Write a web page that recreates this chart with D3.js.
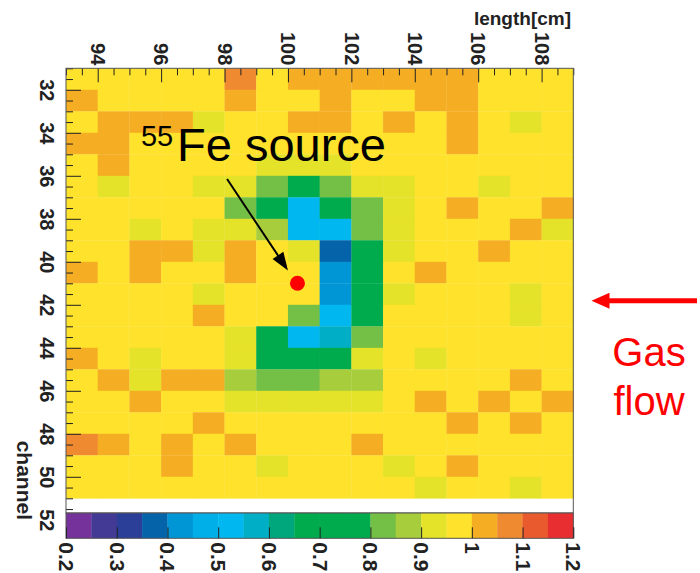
<!DOCTYPE html>
<html>
<head>
<meta charset="utf-8">
<script src="https://cdn.jsdelivr.net/npm/d3@7"></script>
<style>
body { margin: 0; background: #fff; }
svg { display: block; font-family: "Liberation Sans", Arial, Helvetica, sans-serif; }
</style>
</head>
<body>
<script>
// bins: one cell per cm along x, one per channel along y
const lengthBins = [93, 94, 95, 96, 97, 98, 99, 100, 101, 102, 103, 104, 105, 106, 107, 108];
const channelBins = [31, 32, 33, 34, 35, 36, 37, 38, 39, 40, 41, 42, 43, 44, 45, 46, 47, 48, 49, 50];

// relative gain, one row per channel
const ratioRows = [
  [0.97,0.97,0.97,0.97,0.97,1.07,0.97,1.02,1.02,1.02,1.02,1.02,1.02,0.97,0.97,0.97],
  [1.02,0.97,0.97,0.97,0.97,1.02,0.97,0.97,1.02,0.97,0.97,1.02,1.02,0.97,0.97,0.97],
  [0.97,1.02,1.02,1.02,0.92,0.97,0.97,1.02,1.02,0.97,1.02,0.97,1.02,0.97,0.92,0.97],
  [1.02,1.02,0.97,0.97,0.97,0.97,0.97,0.97,0.97,0.97,0.97,0.97,1.02,0.97,0.97,0.97],
  [0.97,1.02,0.97,0.97,0.97,0.97,0.92,0.92,0.92,0.97,0.97,0.97,0.97,0.97,0.97,0.97],
  [0.97,0.92,0.97,0.97,0.92,0.92,0.82,0.72,0.82,0.92,0.92,0.97,0.97,0.92,0.97,0.97],
  [0.97,0.97,0.97,0.97,0.97,0.82,0.72,0.52,0.72,0.82,0.92,0.97,1.02,0.97,0.97,1.02],
  [0.97,0.97,0.92,0.97,0.92,0.92,0.87,0.52,0.52,0.82,0.92,0.97,0.97,0.97,1.02,0.92],
  [0.97,0.97,1.02,1.02,0.92,1.02,0.97,0.92,0.37,0.72,0.92,0.97,0.97,1.02,0.97,0.97],
  [1.02,0.97,1.02,0.97,0.97,1.02,0.97,0.97,0.42,0.72,0.97,1.02,0.97,0.97,0.97,0.97],
  [0.97,0.97,0.97,0.97,0.92,0.97,0.97,0.97,0.42,0.72,0.92,0.97,0.97,0.97,0.92,0.97],
  [0.97,0.97,0.97,0.97,1.02,0.97,0.97,0.82,0.52,0.72,0.97,0.97,0.97,0.97,0.92,0.97],
  [0.97,0.97,0.97,0.97,0.97,0.92,0.72,0.52,0.57,0.82,0.97,0.97,0.97,0.97,0.97,0.97],
  [1.02,0.97,0.92,0.97,0.97,0.92,0.72,0.72,0.72,0.92,0.97,0.92,0.97,0.97,0.97,0.97],
  [0.97,1.02,0.92,1.02,1.02,0.87,0.82,0.82,0.87,0.87,0.97,0.97,0.97,0.97,1.02,0.97],
  [0.97,0.97,1.02,0.97,0.97,0.92,0.92,0.92,0.92,0.92,0.97,1.02,0.97,1.02,0.97,1.02],
  [0.97,0.97,0.97,0.97,1.02,0.97,0.97,0.97,0.97,0.97,0.97,0.97,1.02,0.97,1.02,0.97],
  [1.07,1.02,0.97,1.02,0.97,1.02,0.97,0.97,0.97,1.02,0.97,0.97,0.97,0.97,0.97,0.97],
  [0.97,0.97,0.97,1.02,0.97,0.97,0.92,0.97,0.97,0.97,0.92,0.97,1.02,0.97,0.97,0.97],
  [0.97,0.97,0.97,0.97,0.97,0.97,0.97,0.97,0.97,0.97,0.97,0.92,0.97,0.97,0.92,0.97]
];

const lengthTicks = [94, 96, 98, 100, 102, 104, 106, 108];
const channelTicks = [32, 34, 36, 38, 40, 42, 44, 46, 48, 50, 52];
const scaleTicks = [0.2, 0.3, 0.4, 0.5, 0.6, 0.7, 0.8, 0.9, 1, 1.1, 1.2];
const paletteColors = [
  '#74329a', '#433a96', '#2b3f98', '#0563aa', '#0096d6',
  '#00aee8', '#00b8ef', '#00afc6', '#00a77c', '#00ab4e',
  '#00ab4e', '#00ab4e', '#74bf45', '#a8cd3c', '#e5e22a',
  '#fee22b', '#f5ae24', '#f08a30', '#ea5a2f', '#e82e30'
];

// annotation anchors in data units
const sourceSpot = [{x: 100.3, y: 41.0}];
const sourceArrow = [{x: 98.08, y: 36.15}, {x: 100.0, y: 40.4}];
const sourceLabel = {x: 96.5, y: 35.3};

const WIDTH = 700;
const HEIGHT = 573;
const LEFT = 66;
const RIGHT = 573.3;
const TOP = 68.3;
const ROW = 21.5;
const FRAME_BOTTOM = 513;
const BAR_BOTTOM = 538.3;

var xScale = d3.scaleLinear()
    .domain([93, 109])
    .range([LEFT, RIGHT]);

var yScale = d3.scaleLinear()
    .domain([31, 51])
    .range([TOP, TOP + 20 * ROW]);

var colour = d3.scaleQuantize()
    .domain([0.2, 1.2])
    .range(paletteColors);

var zScale = d3.scaleLinear()
    .domain([0.2, 1.2])
    .range([LEFT, RIGHT]);

var translate = function(x, y) {
    return 'translate(' + x + ',' + y + ')';
};

var svg = d3.select('body').append('svg')
    .attr('width', WIDTH)
    .attr('height', HEIGHT);

// heat map cells
var cells = [];
ratioRows.forEach(function(row, j) {
    row.forEach(function(v, i) {
        cells.push({x: lengthBins[i], y: channelBins[j], v: v});
    });
});

svg.append('g').selectAll('rect')
    .data(cells)
    .enter()
    .append('rect')
    .attr('x', function(d) { return xScale(d.x); })
    .attr('y', function(d) { return yScale(d.y); })
    .attr('width', xScale(1) - xScale(0) + 0.3)
    .attr('height', yScale(1) - yScale(0) + 0.3)
    .attr('fill', function(d) { return colour(d.v); });

// axes, ticks pointing into the frame
var minorX = d3.range(93, 109.5, 0.5).filter(function(v) { return lengthTicks.indexOf(v) < 0; });
var minorY = d3.range(31, 52, 0.5).filter(function(v) { return channelTicks.indexOf(v) < 0; });

svg.append('g')
    .attr('class', 'axis')
    .attr('transform', translate(0, TOP))
    .call(d3.axisTop(xScale).tickValues(minorX).tickSize(-7).tickFormat(''));

var xAxisG = svg.append('g')
    .attr('class', 'axis')
    .attr('transform', translate(0, TOP))
    .call(d3.axisTop(xScale).tickValues(lengthTicks).tickSize(-14).tickFormat(d3.format('d')));

xAxisG.selectAll('text')
    .attr('x', 0).attr('y', 0)
    .attr('dy', '0.36em')
    .attr('transform', 'translate(0,-3) rotate(90)')
    .style('text-anchor', 'end');

svg.append('g')
    .attr('class', 'axis')
    .attr('transform', translate(LEFT, 0))
    .call(d3.axisLeft(yScale).tickValues(minorY).tickSize(-7).tickFormat(''));

var yAxisG = svg.append('g')
    .attr('class', 'axis')
    .attr('transform', translate(LEFT, 0))
    .call(d3.axisLeft(yScale).tickValues(channelTicks).tickSize(-15).tickFormat(d3.format('d')));

yAxisG.selectAll('text')
    .attr('x', 0).attr('y', 0)
    .attr('dy', '0.36em')
    .attr('transform', 'translate(-18.5,0) rotate(90)')
    .style('text-anchor', 'middle');

svg.selectAll('.axis .domain').remove();
svg.selectAll('.axis line').attr('stroke', '#222');
svg.selectAll('.axis text')
    .attr('fill', '#222')
    .style('font-size', '20px')
    .style('font-weight', 'bold')
    .style('font-family', '"Liberation Sans", Arial, sans-serif');

// frame
svg.append('rect')
    .attr('x', LEFT).attr('y', TOP)
    .attr('width', RIGHT - LEFT)
    .attr('height', FRAME_BOTTOM - TOP)
    .attr('fill', 'none')
    .attr('stroke', '#555')
    .attr('stroke-width', 1);

// axis titles
svg.append('text')
    .attr('x', 571).attr('y', 25)
    .attr('text-anchor', 'end')
    .style('font-size', '19px')
    .style('font-weight', 'bold')
    .attr('fill', '#222')
    .text('length[cm]');

svg.append('text')
    .attr('transform', translate(17, 520) + ' rotate(90)')
    .attr('text-anchor', 'end')
    .style('font-size', '21px')
    .style('font-weight', 'bold')
    .attr('fill', '#222')
    .text('channel');

// colour bar, one band per palette step
var bandWidth = zScale(0.25) - zScale(0.2);
var bar = svg.append('g');
bar.selectAll('rect')
    .data(paletteColors)
    .enter()
    .append('rect')
    .attr('x', function(c, i) { return zScale(0.2) + i * bandWidth; })
    .attr('y', FRAME_BOTTOM)
    .attr('width', bandWidth + 0.3)
    .attr('height', BAR_BOTTOM - FRAME_BOTTOM)
    .attr('fill', function(c) { return c; });

bar.append('rect')
    .attr('x', LEFT).attr('y', FRAME_BOTTOM)
    .attr('width', RIGHT - LEFT)
    .attr('height', BAR_BOTTOM - FRAME_BOTTOM)
    .attr('fill', 'none')
    .attr('stroke', '#555');

var zAxisG = svg.append('g')
    .attr('class', 'zaxis')
    .attr('transform', translate(0, BAR_BOTTOM))
    .call(d3.axisBottom(zScale).tickValues(scaleTicks).tickSize(-11).tickFormat(d3.format('')));

zAxisG.select('.domain').remove();
zAxisG.selectAll('line').attr('stroke', '#222');
zAxisG.selectAll('text')
    .attr('x', 0).attr('y', 0)
    .attr('dy', '0.36em')
    .attr('transform', 'translate(0,4) rotate(90)')
    .style('text-anchor', 'start')
    .style('font-size', '21px')
    .style('font-weight', 'bold')
    .style('font-family', '"Liberation Sans", Arial, sans-serif')
    .attr('fill', '#222');

// 55Fe source annotation
var arrowHead = function(p0, p1, len, half) {
    var dx = p1[0] - p0[0], dy = p1[1] - p0[1];
    var n = Math.sqrt(dx * dx + dy * dy);
    var ux = dx / n, uy = dy / n;
    var bx = p1[0] - ux * len, by = p1[1] - uy * len;
    return 'M' + p1[0] + ',' + p1[1] +
        'L' + (bx - uy * half) + ',' + (by + ux * half) +
        'L' + (bx + uy * half) + ',' + (by - ux * half) + 'Z';
};

var a0 = [xScale(sourceArrow[0].x), yScale(sourceArrow[0].y)];
var a1 = [xScale(sourceArrow[1].x), yScale(sourceArrow[1].y)];
var shaftEnd = [a1[0] - (a1[0] - a0[0]) * 0.12, a1[1] - (a1[1] - a0[1]) * 0.12];

svg.append('line')
    .attr('x1', a0[0]).attr('y1', a0[1])
    .attr('x2', shaftEnd[0]).attr('y2', shaftEnd[1])
    .attr('stroke', '#000')
    .attr('stroke-width', 2);

svg.append('path')
    .attr('d', arrowHead(a0, a1, 18, 6.5))
    .attr('fill', '#000');

svg.selectAll('.spot')
    .data(sourceSpot)
    .enter()
    .append('circle')
    .attr('class', 'spot')
    .attr('cx', function(d) { return xScale(d.x); })
    .attr('cy', function(d) { return yScale(d.y); })
    .attr('r', 7.5)
    .attr('fill', '#ff0000');

var lx = xScale(sourceLabel.x), ly = yScale(sourceLabel.y);
svg.append('text')
    .attr('x', lx - 36).attr('y', ly - 14.5)
    .style('font-size', '29px')
    .attr('fill', '#000')
    .text('55');
svg.append('text')
    .attr('x', lx).attr('y', ly)
    .style('font-size', '47px')
    .attr('fill', '#000')
    .text('Fe source');

// gas flow arrow and label
svg.append('line')
    .attr('x1', 697).attr('y1', 300.7)
    .attr('x2', 606).attr('y2', 300.7)
    .attr('stroke', '#ff0000')
    .attr('stroke-width', 5);
svg.append('path')
    .attr('d', arrowHead([697, 300.7], [591.5, 300.7], 18, 8))
    .attr('fill', '#ff0000');

svg.append('text')
    .attr('x', 649).attr('y', 366)
    .attr('text-anchor', 'middle')
    .style('font-size', '40px')
    .attr('fill', '#ff0000')
    .text('Gas');
svg.append('text')
    .attr('x', 649).attr('y', 415)
    .attr('text-anchor', 'middle')
    .style('font-size', '40px')
    .attr('fill', '#ff0000')
    .text('flow');
</script>
</body>
</html>
